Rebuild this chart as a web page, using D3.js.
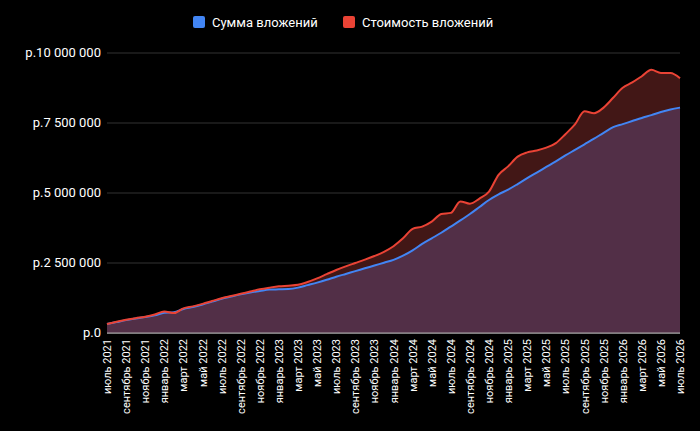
<!DOCTYPE html>
<html><head><meta charset="utf-8">
<script src="https://cdn.jsdelivr.net/npm/d3@7"></script>
<style>body{margin:0;background:#000}svg{display:block;font-family:Roboto,Arial,sans-serif}</style>
</head><body><svg id="c" width="700" height="431"></svg>
<script>
// monthly, июль 2021 .. июль 2026, millions of rubles
var monthNames = ["январь","февраль","март","апрель","май","июнь","июль","август","сентябрь","октябрь","ноябрь","декабрь"];
var invested = [0.32,0.39,0.46,0.52,0.57,0.63,0.72,0.74,0.86,0.93,1.02,1.12,1.22,1.30,1.38,1.45,1.50,1.55,1.56,1.57,1.62,1.71,1.80,1.90,2.01,2.11,2.21,2.31,2.41,2.51,2.61,2.76,2.95,3.18,3.38,3.58,3.80,4.02,4.25,4.50,4.75,4.95,5.12,5.32,5.53,5.73,5.93,6.13,6.34,6.54,6.74,6.94,7.15,7.35,7.46,7.57,7.68,7.78,7.89,7.98,8.05];
var value = [0.32,0.40,0.47,0.53,0.58,0.66,0.77,0.71,0.88,0.95,1.04,1.14,1.24,1.32,1.40,1.48,1.56,1.62,1.67,1.69,1.72,1.82,1.95,2.10,2.25,2.38,2.50,2.62,2.75,2.90,3.10,3.38,3.72,3.80,3.98,4.25,4.29,4.70,4.62,4.80,5.05,5.65,5.95,6.30,6.45,6.52,6.62,6.78,7.10,7.45,7.92,7.85,8.05,8.40,8.76,8.95,9.17,9.40,9.29,9.29,9.10,9.29].slice(0,61);
var yTicks = [0,2.5,5,7.5,10];
var seriesNames = ["Сумма вложений","Стоимость вложений"];
var seriesColors = ["#4285f4","#ea4335"];

var svg = d3.select("#c");
var m = {l:107,r:20,t:53,b:98};
var W = 700, H = 431;
var x = d3.scaleLinear().domain([0,60]).range([m.l, W-m.r]);
var y = d3.scaleLinear().domain([0,10]).range([H-m.b, m.t]);
var idx = d3.range(61);

// grid
svg.append("g").selectAll("line").data(yTicks).join("line")
  .attr("x1",m.l).attr("x2",W-m.r).attr("y1",d=>y(d)).attr("y2",d=>y(d))
  .attr("stroke",d=>d===0?"#aaa":"#333").attr("stroke-width",1);
svg.append("g").selectAll("text").data(yTicks).join("text")
  .attr("x",m.l-6).attr("y",d=>y(d)+4).attr("text-anchor","end")
  .attr("fill","#fff").attr("font-size",13)
  .text(d=>"р."+d3.format(",.0f")(d*1e6).replace(/,/g,"\u00a0"));

var areaV = d3.area().x(i=>x(i)).y0(y(0)).y1(i=>y(value[i])).curve(d3.curveMonotoneX);
var areaI = d3.area().x(i=>x(i)).y0(y(0)).y1(i=>y(invested[i])).curve(d3.curveMonotoneX);
svg.append("path").datum(idx).attr("d",areaV).attr("fill","#421716");
svg.append("path").datum(idx).attr("d",areaI).attr("fill","#522f47");
var lineV = d3.line().x(i=>x(i)).y(i=>y(value[i])).curve(d3.curveMonotoneX);
var lineI = d3.line().x(i=>x(i)).y(i=>y(invested[i])).curve(d3.curveMonotoneX);
svg.append("path").datum(idx).attr("d",lineI).attr("fill","none").attr("stroke",seriesColors[0]).attr("stroke-width",2);
svg.append("path").datum(idx).attr("d",lineV).attr("fill","none").attr("stroke",seriesColors[1]).attr("stroke-width",2);
svg.append("line").attr("x1",m.l).attr("x2",W-m.r).attr("y1",y(0)).attr("y2",y(0)).attr("stroke","#aaa");

// x labels every 2 months
svg.append("g").selectAll("text").data(idx.filter(i=>i%2===0)).join("text")
  .attr("transform",i=>"translate("+(x(i)+4)+","+(H-m.b+6)+") rotate(-90)")
  .attr("text-anchor","end").attr("fill","#fff").attr("font-size",11)
  .text(i=>{var mo=(6+i)%12, yr=2021+Math.floor((6+i)/12); return monthNames[mo]+" "+yr;});

// legend
var lg = svg.append("g").attr("font-size",13).attr("fill","#fff");
var lx = [193,343];
seriesNames.forEach(function(n,k){
  lg.append("rect").attr("x",lx[k]).attr("y",16).attr("width",12).attr("height",12).attr("rx",2).attr("fill",seriesColors[k]);
  lg.append("text").attr("x",lx[k]+19).attr("y",27).text(n);
});
</script></body></html>
